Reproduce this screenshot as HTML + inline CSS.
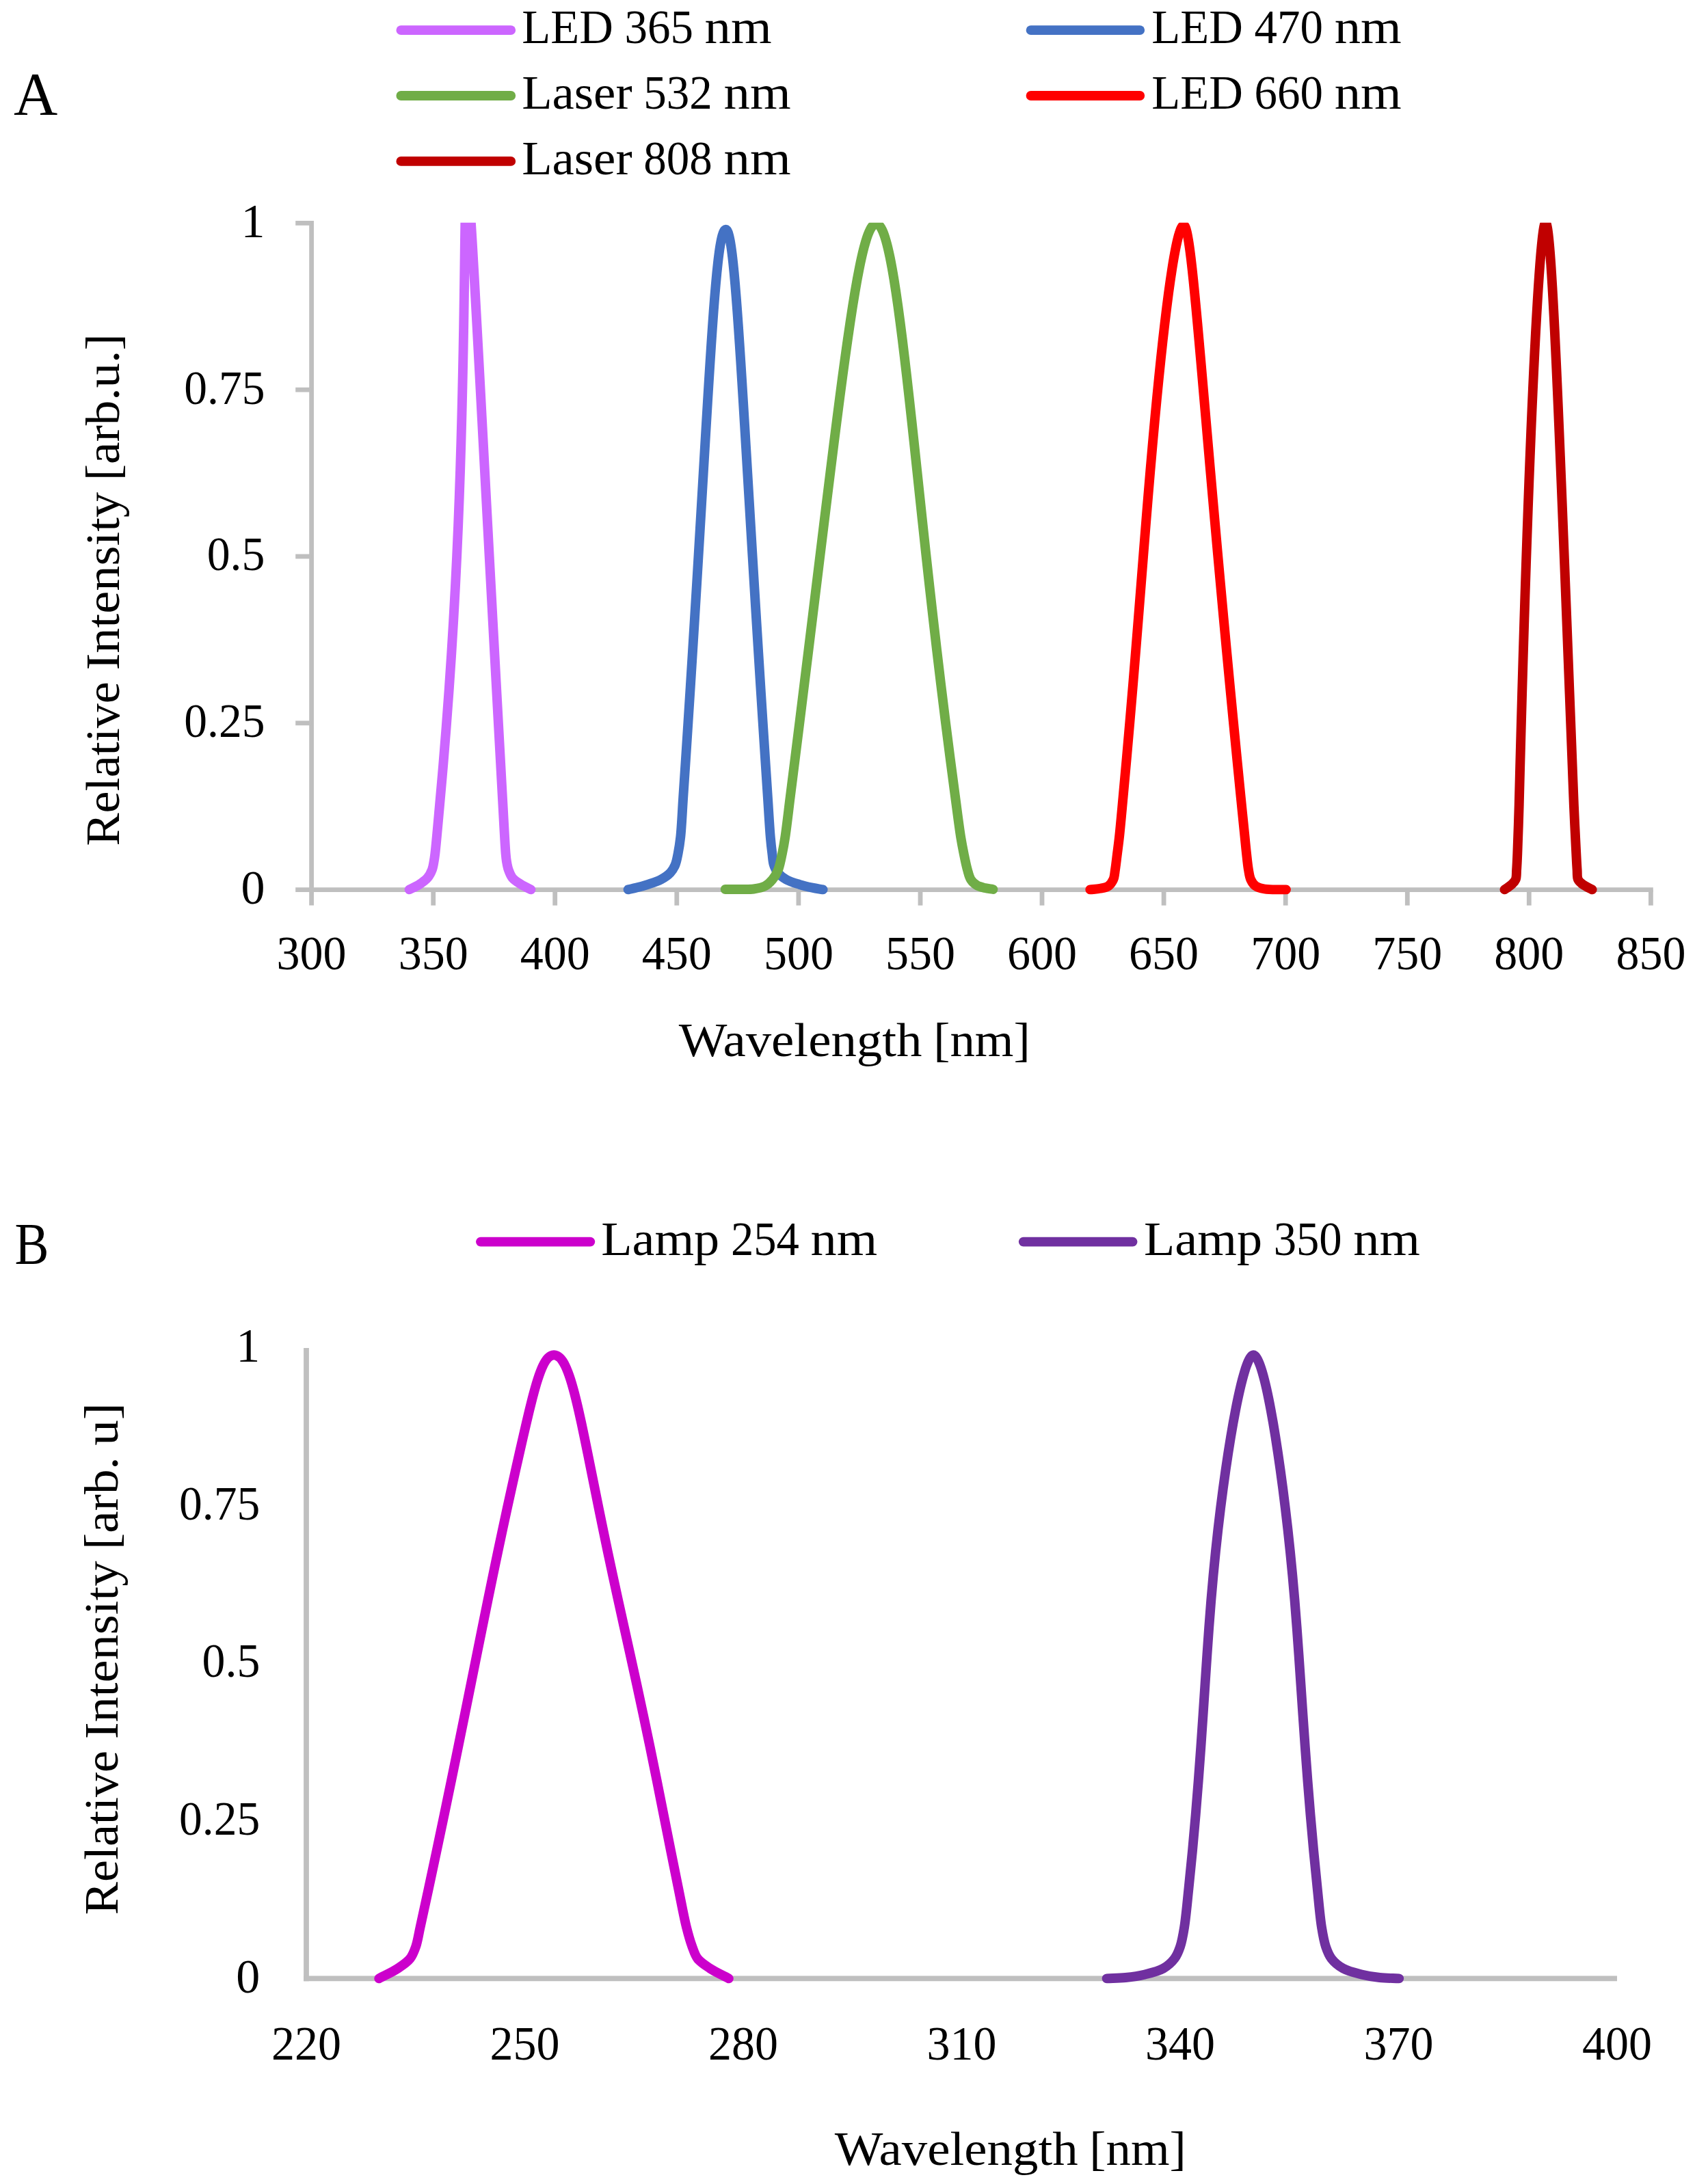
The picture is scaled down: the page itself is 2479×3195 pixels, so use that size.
<!DOCTYPE html>
<html lang="en"><head><meta charset="utf-8"><title>Emission spectra</title>
<style>html,body{margin:0;padding:0;background:#fff}svg{display:block}</style></head>
<body>
<svg width="2479" height="3195" viewBox="0 0 2479 3195" font-family='"Liberation Serif", "DejaVu Serif", serif' fill="#000">
<rect width="2479" height="3195" fill="#fff"/>
<defs><clipPath id="ca"><rect x="0" y="325.7" width="2479" height="1100"/></clipPath></defs>
<g stroke="#BFBFBF" stroke-width="6.8" fill="none">
<path d="M455.6 323.0V1324.6"/>
<path d="M432.2 1301.6H2417.8"/>
<path d="M432.2 326.4H455.6"/>
<path d="M432.2 570.2H455.6"/>
<path d="M432.2 814.0H455.6"/>
<path d="M432.2 1057.8H455.6"/>
<path d="M633.7 1301.6V1324.6"/>
<path d="M811.7 1301.6V1324.6"/>
<path d="M989.8 1301.6V1324.6"/>
<path d="M1167.9 1301.6V1324.6"/>
<path d="M1346.0 1301.6V1324.6"/>
<path d="M1524.0 1301.6V1324.6"/>
<path d="M1702.1 1301.6V1324.6"/>
<path d="M1880.2 1301.6V1324.6"/>
<path d="M2058.3 1301.6V1324.6"/>
<path d="M2236.3 1301.6V1324.6"/>
<path d="M2414.4 1301.6V1324.6"/>
</g>
<g fill="none" stroke-width="13.9" stroke-linecap="round" stroke-linejoin="round" clip-path="url(#ca)">
<path stroke="#CC66FF" d="M598.60 1301.40C603.50 1298.87 608.79 1296.73 613.30 1293.80C617.63 1290.99 622.05 1288.03 625.20 1284.30C628.23 1280.72 630.46 1276.19 632.05 1272.00C633.53 1268.08 633.97 1263.96 634.69 1260.00C635.39 1256.16 635.69 1254.04 636.34 1248.60C637.96 1235.00 641.03 1199.56 643.08 1177.00C644.93 1156.78 646.54 1138.50 648.15 1119.49C649.73 1100.80 651.23 1082.25 652.65 1063.87C654.05 1045.80 655.38 1027.88 656.64 1010.13C657.87 992.69 659.04 975.40 660.14 958.28C661.22 941.47 662.24 924.81 663.20 908.31C664.14 892.13 665.02 876.10 665.85 860.23C666.66 844.68 667.42 829.27 668.13 814.03C668.83 799.11 669.48 784.33 670.09 769.72C670.68 755.43 671.23 741.28 671.74 727.30C672.25 713.63 672.71 700.11 673.14 686.76C673.57 673.72 673.96 660.83 674.32 648.11C674.68 635.70 675.01 623.43 675.32 611.34C675.63 599.56 675.91 587.92 676.18 576.46C676.44 565.31 676.68 554.30 676.91 543.46C677.14 532.94 677.34 522.56 677.54 512.35C677.73 502.45 677.90 492.70 678.07 483.12C678.23 473.86 678.37 464.73 678.51 455.78C678.65 447.15 678.77 438.65 678.89 430.33C679.01 422.32 679.12 414.45 679.22 406.76C679.32 399.38 679.41 392.14 679.51 385.07C679.59 378.33 679.68 371.71 679.77 365.28C679.85 359.16 679.93 353.17 680.01 347.36C680.09 341.87 680.17 336.51 680.26 331.34C680.34 326.48 680.42 321.74 680.52 317.20C680.61 312.96 680.70 308.85 680.81 304.94C680.91 301.34 681.02 297.85 681.14 294.57C681.26 291.60 681.38 288.73 681.53 286.08C681.66 283.75 681.80 281.50 681.99 279.48C682.14 277.78 682.30 276.14 682.53 274.77C682.71 273.70 682.85 272.61 683.16 271.94C683.37 271.51 683.70 270.98 683.90 271.00C684.08 271.02 684.20 271.53 684.33 271.94C684.54 272.62 684.67 273.71 684.83 274.77C685.03 276.14 685.21 277.78 685.39 279.48C685.61 281.50 685.81 283.75 686.02 286.08C686.26 288.73 686.49 291.60 686.72 294.57C686.98 297.85 687.23 301.34 687.49 304.94C687.77 308.85 688.05 312.96 688.33 317.20C688.63 321.74 688.94 326.48 689.25 331.34C689.58 336.51 689.91 341.87 690.24 347.36C690.59 353.17 690.95 359.16 691.31 365.28C691.69 371.71 692.07 378.33 692.46 385.07C692.87 392.14 693.28 399.38 693.70 406.76C694.13 414.45 694.57 422.32 695.01 430.33C695.48 438.65 695.95 447.15 696.42 455.78C696.91 464.73 697.41 473.86 697.91 483.12C698.43 492.70 698.96 502.45 699.50 512.35C700.05 522.56 700.61 532.94 701.17 543.46C701.75 554.30 702.35 565.31 702.94 576.46C703.56 587.92 704.18 599.56 704.81 611.34C705.46 623.43 706.11 635.70 706.77 648.11C707.45 660.83 708.14 673.72 708.84 686.76C709.55 700.11 710.28 713.63 711.01 727.30C711.76 741.28 712.51 755.43 713.28 769.72C714.06 784.33 714.86 799.11 715.66 814.03C716.48 829.27 717.31 844.68 718.15 860.23C719.00 876.10 719.87 892.13 720.74 908.31C721.64 924.81 722.54 941.47 723.45 958.28C724.38 975.40 725.33 992.69 726.28 1010.13C727.25 1027.88 728.23 1045.80 729.22 1063.87C730.23 1082.25 731.25 1100.80 732.28 1119.49C733.32 1138.50 734.31 1156.78 735.46 1177.00C736.73 1199.56 738.47 1234.99 739.62 1248.60C740.08 1254.04 740.24 1256.17 740.88 1260.00C741.53 1263.97 742.17 1268.05 743.54 1272.00C744.99 1276.16 746.59 1280.76 749.50 1284.30C752.63 1288.11 757.65 1290.96 762.10 1293.80C766.61 1296.67 771.63 1298.87 776.40 1301.40"/>
<path stroke="#4472C4" d="M918.60 1301.40C922.73 1300.47 926.58 1299.74 931.00 1298.60C936.15 1297.28 941.91 1295.68 947.60 1293.80C953.78 1291.76 961.07 1289.69 966.70 1286.70C971.77 1284.01 976.57 1280.87 980.11 1277.10C983.38 1273.62 985.64 1269.66 987.53 1265.20C989.61 1260.27 990.43 1254.66 991.64 1248.60C993.08 1241.41 994.19 1234.51 995.26 1224.80C996.91 1209.68 997.91 1185.78 999.20 1166.52C1000.47 1147.59 1001.72 1128.82 1002.94 1110.22C1004.14 1091.95 1005.32 1073.83 1006.47 1055.89C1007.61 1038.28 1008.72 1020.82 1009.82 1003.54C1010.89 986.58 1011.94 969.79 1012.98 953.16C1013.99 936.87 1014.99 920.73 1015.97 904.76C1016.93 889.12 1017.87 873.64 1018.80 858.33C1019.70 843.36 1020.59 828.53 1021.47 813.88C1022.33 799.57 1023.17 785.40 1024.00 771.41C1024.82 757.75 1025.61 744.24 1026.40 730.91C1027.17 717.91 1027.93 705.06 1028.68 692.39C1029.41 680.04 1030.13 667.85 1030.84 655.84C1031.54 644.16 1032.22 632.62 1032.90 621.27C1033.56 610.24 1034.22 599.37 1034.87 588.67C1035.50 578.30 1036.12 568.09 1036.75 558.05C1037.35 548.34 1037.95 538.78 1038.56 529.40C1039.14 520.36 1039.72 511.45 1040.30 502.73C1040.86 494.34 1041.42 486.10 1041.99 478.04C1042.53 470.31 1043.08 462.72 1043.63 455.32C1044.16 448.25 1044.70 441.32 1045.24 434.58C1045.76 428.16 1046.29 421.89 1046.83 415.81C1047.34 410.06 1047.86 404.44 1048.40 399.02C1048.90 393.92 1049.42 388.96 1049.96 384.20C1050.46 379.77 1050.98 375.46 1051.53 371.36C1052.03 367.58 1052.55 363.93 1053.11 360.49C1053.62 357.38 1054.14 354.37 1054.71 351.60C1055.23 349.15 1055.75 346.79 1056.35 344.69C1056.87 342.89 1057.39 341.16 1058.03 339.75C1058.56 338.61 1059.08 337.46 1059.77 336.79C1060.30 336.27 1060.98 335.79 1061.55 335.80C1062.10 335.81 1062.67 336.28 1063.14 336.79C1063.77 337.46 1064.22 338.61 1064.69 339.75C1065.27 341.17 1065.74 342.89 1066.21 344.69C1066.76 346.79 1067.23 349.15 1067.70 351.60C1068.24 354.38 1068.72 357.38 1069.19 360.49C1069.71 363.93 1070.19 367.58 1070.66 371.36C1071.18 375.46 1071.67 379.77 1072.15 384.20C1072.66 388.96 1073.15 393.92 1073.64 399.02C1074.16 404.44 1074.66 410.06 1075.15 415.81C1075.68 421.89 1076.19 428.16 1076.70 434.58C1077.23 441.32 1077.75 448.25 1078.28 455.32C1078.82 462.72 1079.36 470.31 1079.90 478.04C1080.47 486.10 1081.02 494.34 1081.58 502.73C1082.17 511.45 1082.75 520.36 1083.33 529.40C1083.93 538.78 1084.54 548.34 1085.14 558.05C1085.77 568.09 1086.40 578.30 1087.04 588.67C1087.70 599.37 1088.36 610.24 1089.02 621.27C1089.71 632.62 1090.40 644.16 1091.11 655.84C1091.83 667.85 1092.56 680.04 1093.29 692.39C1094.05 705.06 1094.82 717.91 1095.60 730.91C1096.39 744.24 1097.20 757.75 1098.02 771.41C1098.86 785.40 1099.71 799.57 1100.58 813.88C1101.46 828.53 1102.36 843.36 1103.27 858.33C1104.20 873.64 1105.15 889.12 1106.12 904.76C1107.10 920.73 1108.10 936.87 1109.12 953.16C1110.15 969.79 1111.21 986.58 1112.28 1003.54C1113.38 1020.82 1114.49 1038.28 1115.62 1055.89C1116.78 1073.83 1117.95 1091.95 1119.15 1110.22C1120.36 1128.82 1121.60 1147.59 1122.86 1166.52C1124.14 1185.78 1125.45 1209.66 1126.77 1224.80C1127.62 1234.49 1128.41 1241.39 1129.33 1248.60C1130.10 1254.64 1130.19 1260.24 1131.79 1265.20C1133.21 1269.63 1135.07 1273.61 1137.94 1277.10C1141.02 1280.85 1145.28 1284.03 1150.00 1286.70C1155.41 1289.76 1162.60 1291.81 1169.00 1293.80C1175.30 1295.76 1182.04 1297.29 1188.10 1298.60C1193.52 1299.77 1198.43 1300.47 1203.60 1301.40"/>
<path stroke="#70AD47" d="M1060.70 1301.00C1067.47 1301.00 1074.14 1301.08 1081.00 1301.00C1088.04 1300.92 1095.77 1301.42 1102.40 1300.50C1108.34 1299.67 1114.30 1298.69 1119.00 1296.20C1123.30 1293.92 1126.69 1290.48 1129.80 1286.70C1133.13 1282.64 1135.85 1277.95 1138.09 1272.40C1140.83 1265.64 1142.29 1256.56 1143.99 1248.60C1145.68 1240.69 1146.80 1234.52 1148.29 1224.80C1150.63 1209.58 1153.29 1185.41 1155.75 1165.97C1158.16 1146.86 1160.54 1127.91 1162.89 1109.14C1165.20 1090.69 1167.48 1072.41 1169.73 1054.29C1171.93 1036.52 1174.11 1018.89 1176.27 1001.45C1178.38 984.33 1180.46 967.38 1182.53 950.59C1184.55 934.15 1186.54 917.85 1188.51 901.74C1190.44 885.95 1192.35 870.32 1194.24 854.87C1196.09 839.75 1197.91 824.79 1199.72 810.00C1201.49 795.55 1203.24 781.25 1204.97 767.13C1206.66 753.34 1208.33 739.70 1209.99 726.24C1211.61 713.12 1213.21 700.15 1214.80 687.36C1216.35 674.90 1217.88 662.59 1219.41 650.46C1220.89 638.67 1222.36 627.03 1223.82 615.57C1225.25 604.43 1226.66 593.46 1228.07 582.66C1229.43 572.19 1230.79 561.88 1232.14 551.75C1233.45 541.95 1234.76 532.30 1236.07 522.83C1237.33 513.70 1238.58 504.71 1239.85 495.91C1241.06 487.44 1242.28 479.12 1243.50 470.98C1244.67 463.18 1245.84 455.52 1247.03 448.05C1248.16 440.91 1249.30 433.91 1250.45 427.11C1251.55 420.63 1252.66 414.30 1253.78 408.17C1254.85 402.35 1255.93 396.68 1257.03 391.22C1258.07 386.07 1259.12 381.06 1260.21 376.26C1261.22 371.78 1262.25 367.43 1263.32 363.30C1264.31 359.48 1265.32 355.79 1266.39 352.33C1267.36 349.17 1268.35 346.14 1269.42 343.35C1270.37 340.86 1271.35 338.47 1272.42 336.37C1273.36 334.54 1274.32 332.78 1275.41 331.39C1276.34 330.20 1277.32 329.07 1278.40 328.40C1279.34 327.82 1280.40 327.40 1281.40 327.40C1282.39 327.40 1283.44 327.82 1284.36 328.40C1285.42 329.07 1286.38 330.20 1287.28 331.39C1288.34 332.78 1289.26 334.54 1290.17 336.37C1291.20 338.47 1292.12 340.86 1293.03 343.35C1294.04 346.14 1294.96 349.17 1295.87 352.33C1296.87 355.79 1297.80 359.48 1298.72 363.30C1299.71 367.43 1300.65 371.78 1301.58 376.26C1302.57 381.06 1303.52 386.07 1304.46 391.22C1305.46 396.68 1306.42 402.35 1307.38 408.17C1308.38 414.30 1309.37 420.64 1310.34 427.11C1311.36 433.91 1312.37 440.91 1313.36 448.05C1314.40 455.52 1315.43 463.18 1316.45 470.98C1317.52 479.12 1318.57 487.44 1319.63 495.91C1320.72 504.71 1321.81 513.70 1322.90 522.83C1324.02 532.30 1325.14 541.95 1326.27 551.75C1327.43 561.88 1328.59 572.20 1329.76 582.66C1330.97 593.46 1332.17 604.43 1333.38 615.57C1334.63 627.03 1335.88 638.67 1337.15 650.46C1338.44 662.59 1339.75 674.90 1341.07 687.36C1342.43 700.15 1343.80 713.12 1345.20 726.24C1346.63 739.70 1348.08 753.34 1349.56 767.13C1351.08 781.25 1352.62 795.55 1354.19 810.00C1355.81 824.79 1357.45 839.75 1359.13 854.87C1360.85 870.32 1362.61 885.95 1364.41 901.74C1366.25 917.85 1368.13 934.15 1370.06 950.59C1372.03 967.38 1374.05 984.34 1376.13 1001.45C1378.24 1018.90 1380.41 1036.52 1382.64 1054.29C1384.91 1072.41 1387.23 1090.69 1389.63 1109.14C1392.06 1127.91 1394.56 1146.87 1397.13 1165.97C1399.75 1185.41 1402.74 1209.57 1405.19 1224.80C1406.76 1234.52 1407.98 1240.68 1409.59 1248.60C1411.21 1256.55 1412.93 1265.52 1414.90 1272.40C1416.44 1277.82 1417.39 1282.81 1419.90 1286.70C1422.13 1290.16 1425.21 1292.96 1428.60 1295.00C1432.06 1297.09 1436.49 1298.00 1440.50 1299.00C1444.43 1299.98 1448.43 1300.33 1452.40 1301.00"/>
<path stroke="#FF0000" d="M1594.30 1301.40C1599.20 1300.87 1604.39 1300.73 1609.00 1299.80C1613.24 1298.94 1617.77 1298.43 1621.00 1296.20C1624.15 1294.02 1626.59 1290.41 1628.25 1286.70C1630.08 1282.60 1630.14 1277.79 1631.00 1272.40C1632.10 1265.49 1633.05 1256.53 1634.05 1248.60C1635.05 1240.67 1635.93 1234.50 1637.00 1224.80C1638.66 1209.59 1640.77 1185.51 1642.58 1166.11C1644.35 1147.05 1646.07 1128.14 1647.74 1109.41C1649.39 1091.01 1650.98 1072.76 1652.53 1054.69C1654.06 1036.96 1655.54 1019.38 1657.00 1001.97C1658.42 984.90 1659.80 967.98 1661.16 951.24C1662.50 934.83 1663.80 918.57 1665.08 902.49C1666.34 886.75 1667.57 871.15 1668.79 855.74C1669.99 840.65 1671.16 825.72 1672.33 810.97C1673.47 796.55 1674.60 782.29 1675.74 768.20C1676.85 754.44 1677.95 740.84 1679.06 727.41C1680.14 714.32 1681.23 701.38 1682.32 688.61C1683.39 676.18 1684.46 663.91 1685.54 651.81C1686.59 640.04 1687.64 628.42 1688.70 616.99C1689.72 605.89 1690.76 594.93 1691.80 584.16C1692.80 573.72 1693.82 563.43 1694.84 553.33C1695.82 543.55 1696.81 533.92 1697.81 524.48C1698.78 515.36 1699.75 506.40 1700.72 497.62C1701.67 489.17 1702.61 480.86 1703.57 472.75C1704.48 464.96 1705.41 457.32 1706.34 449.87C1707.23 442.74 1708.13 435.76 1709.04 428.98C1709.90 422.52 1710.77 416.20 1711.66 410.08C1712.49 404.28 1713.34 398.62 1714.20 393.17C1715.01 388.03 1715.82 383.04 1716.66 378.24C1717.43 373.78 1718.22 369.44 1719.03 365.31C1719.78 361.51 1720.53 357.83 1721.31 354.37C1722.03 351.23 1722.75 348.20 1723.51 345.42C1724.19 342.94 1724.87 340.56 1725.61 338.45C1726.25 336.64 1726.88 334.90 1727.62 333.48C1728.21 332.33 1728.80 331.17 1729.52 330.49C1730.07 329.98 1730.75 329.47 1731.30 329.50C1731.81 329.53 1732.29 330.00 1732.71 330.49C1733.29 331.18 1733.70 332.34 1734.13 333.48C1734.67 334.91 1735.12 336.65 1735.57 338.45C1736.10 340.57 1736.58 342.94 1737.05 345.42C1737.58 348.21 1738.08 351.23 1738.57 354.37C1739.12 357.83 1739.63 361.51 1740.15 365.31C1740.71 369.44 1741.25 373.78 1741.79 378.24C1742.37 383.04 1742.94 388.04 1743.51 393.17C1744.11 398.63 1744.71 404.28 1745.31 410.08C1745.94 416.20 1746.57 422.52 1747.20 428.98C1747.87 435.77 1748.53 442.75 1749.20 449.87C1749.90 457.32 1750.61 464.96 1751.32 472.75C1752.06 480.86 1752.80 489.17 1753.56 497.62C1754.34 506.40 1755.13 515.36 1755.93 524.48C1756.76 533.92 1757.60 543.55 1758.46 553.33C1759.34 563.43 1760.23 573.72 1761.13 584.16C1762.07 594.93 1763.01 605.89 1763.98 616.99C1764.97 628.43 1765.97 640.04 1767.00 651.81C1768.05 663.91 1769.12 676.18 1770.20 688.61C1771.32 701.38 1772.45 714.32 1773.60 727.41C1774.79 740.84 1775.99 754.44 1777.21 768.20C1778.46 782.29 1779.74 796.55 1781.03 810.97C1782.36 825.72 1783.71 840.65 1785.09 855.74C1786.49 871.15 1787.92 886.75 1789.37 902.49C1790.86 918.57 1792.37 934.83 1793.91 951.24C1795.48 967.98 1797.07 984.90 1798.70 1001.97C1800.35 1019.38 1802.04 1036.96 1803.76 1054.69C1805.50 1072.76 1807.28 1091.01 1809.09 1109.41C1810.93 1128.14 1812.81 1147.05 1814.71 1166.11C1816.65 1185.50 1819.09 1209.58 1820.63 1224.80C1821.61 1234.49 1822.16 1240.67 1823.05 1248.60C1823.94 1256.54 1824.75 1265.50 1825.97 1272.40C1826.92 1277.80 1827.37 1282.59 1829.28 1286.70C1831.00 1290.40 1833.22 1293.92 1836.40 1296.20C1839.83 1298.66 1844.11 1299.56 1849.50 1300.50C1857.65 1301.92 1870.50 1301.10 1881.00 1301.40"/>
<path stroke="#C00000" d="M2200.50 1301.40C2204.00 1298.87 2208.17 1296.49 2211.00 1293.80C2213.37 1291.54 2215.48 1289.70 2216.71 1286.70C2218.24 1282.93 2217.71 1277.78 2218.11 1272.40C2218.63 1265.48 2218.90 1258.66 2219.32 1248.60C2220.06 1231.16 2221.06 1199.46 2221.73 1177.10C2222.31 1157.34 2222.68 1139.72 2223.17 1121.27C2223.65 1103.14 2224.13 1085.16 2224.62 1067.34C2225.10 1049.84 2225.59 1032.48 2226.08 1015.30C2226.56 998.42 2227.05 981.70 2227.54 965.15C2228.03 948.91 2228.51 932.81 2229.01 916.89C2229.49 901.28 2229.98 885.82 2230.47 870.52C2230.96 855.55 2231.45 840.71 2231.94 826.05C2232.42 811.70 2232.91 797.50 2233.40 783.47C2233.88 769.75 2234.36 756.18 2234.85 742.78C2235.33 729.70 2235.81 716.76 2236.30 703.99C2236.77 691.53 2237.25 679.23 2237.74 667.09C2238.21 655.26 2238.68 643.58 2239.16 632.08C2239.63 620.88 2240.10 609.83 2240.57 598.96C2241.03 588.40 2241.50 577.98 2241.97 567.73C2242.42 557.80 2242.88 548.01 2243.34 538.40C2243.79 529.10 2244.24 519.94 2244.70 510.96C2245.14 502.29 2245.58 493.76 2246.03 485.41C2246.47 477.37 2246.90 469.48 2247.34 461.76C2247.77 454.35 2248.19 447.08 2248.63 439.99C2249.04 433.22 2249.46 426.58 2249.88 420.12C2250.28 413.98 2250.69 407.97 2251.10 402.14C2251.50 396.63 2251.89 391.25 2252.29 386.06C2252.67 381.18 2253.06 376.43 2253.45 371.86C2253.82 367.62 2254.19 363.49 2254.57 359.56C2254.92 355.95 2255.28 352.45 2255.65 349.16C2255.99 346.17 2256.33 343.30 2256.69 340.64C2257.01 338.29 2257.33 336.03 2257.69 334.02C2257.99 332.30 2258.28 330.65 2258.64 329.28C2258.92 328.21 2259.16 327.11 2259.54 326.45C2259.79 326.01 2260.11 325.51 2260.40 325.50C2260.70 325.49 2261.06 326.01 2261.33 326.45C2261.73 327.11 2261.98 328.21 2262.27 329.28C2262.63 330.65 2262.92 332.30 2263.22 334.02C2263.57 336.03 2263.87 338.29 2264.18 340.64C2264.53 343.30 2264.84 346.17 2265.16 349.16C2265.51 352.45 2265.83 355.95 2266.16 359.56C2266.51 363.49 2266.84 367.62 2267.17 371.86C2267.53 376.43 2267.87 381.18 2268.22 386.06C2268.58 391.25 2268.93 396.63 2269.28 402.14C2269.65 407.97 2270.02 413.98 2270.38 420.12C2270.76 426.58 2271.13 433.22 2271.50 439.99C2271.89 447.08 2272.27 454.35 2272.66 461.76C2273.06 469.48 2273.45 477.37 2273.85 485.41C2274.26 493.76 2274.67 502.29 2275.08 510.96C2275.50 519.94 2275.93 529.10 2276.35 538.40C2276.79 548.01 2277.22 557.80 2277.66 567.73C2278.11 577.98 2278.56 588.40 2279.02 598.96C2279.48 609.83 2279.95 620.88 2280.42 632.08C2280.90 643.58 2281.39 655.26 2281.87 667.09C2282.37 679.23 2282.87 691.53 2283.38 703.99C2283.90 716.76 2284.41 729.70 2284.94 742.78C2285.47 756.18 2286.01 769.75 2286.55 783.47C2287.11 797.50 2287.67 811.70 2288.23 826.05C2288.80 840.71 2289.38 855.55 2289.97 870.52C2290.56 885.82 2291.16 901.28 2291.77 916.89C2292.39 932.81 2293.01 948.91 2293.64 965.15C2294.28 981.70 2294.92 998.42 2295.57 1015.30C2296.24 1032.48 2296.91 1049.84 2297.58 1067.34C2298.27 1085.16 2298.96 1103.14 2299.66 1121.27C2300.38 1139.72 2300.96 1157.34 2301.82 1177.10C2302.79 1199.46 2304.35 1231.16 2305.27 1248.60C2305.79 1258.66 2306.09 1265.48 2306.61 1272.40C2307.02 1277.77 2306.25 1282.98 2307.96 1286.70C2309.37 1289.78 2311.92 1291.59 2314.80 1293.80C2318.44 1296.59 2324.00 1298.87 2328.60 1301.40"/>
</g>
<g fill="none" stroke-width="13.9" stroke-linecap="round">
<path stroke="#CC66FF" d="M586.4 44.1H747.2"/>
<path stroke="#70AD47" d="M586.4 140.0H747.2"/>
<path stroke="#C00000" d="M586.4 235.9H747.2"/>
<path stroke="#4472C4" d="M1507.6 44.1H1667.2"/>
<path stroke="#FF0000" d="M1507.6 140.0H1667.2"/>
</g>
<text y="62.9" font-size="70"><tspan x="763.2" textLength="133.6" lengthAdjust="spacingAndGlyphs">LED</tspan> <tspan x="913.5" textLength="100.4" lengthAdjust="spacingAndGlyphs">365</tspan> <tspan x="1030.6" textLength="98.1" lengthAdjust="spacingAndGlyphs">nm</tspan></text>
<text y="159.0" font-size="70"><tspan x="763.2" textLength="161.4" lengthAdjust="spacingAndGlyphs">Laser</tspan> <tspan x="941.3" textLength="100.5" lengthAdjust="spacingAndGlyphs">532</tspan> <tspan x="1058.6" textLength="98.1" lengthAdjust="spacingAndGlyphs">nm</tspan></text>
<text y="255.1" font-size="70"><tspan x="763.2" textLength="161.4" lengthAdjust="spacingAndGlyphs">Laser</tspan> <tspan x="941.3" textLength="100.5" lengthAdjust="spacingAndGlyphs">808</tspan> <tspan x="1058.6" textLength="98.1" lengthAdjust="spacingAndGlyphs">nm</tspan></text>
<text y="62.9" font-size="70"><tspan x="1684.3" textLength="133.6" lengthAdjust="spacingAndGlyphs">LED</tspan> <tspan x="1834.6" textLength="100.4" lengthAdjust="spacingAndGlyphs">470</tspan> <tspan x="1951.7" textLength="98.1" lengthAdjust="spacingAndGlyphs">nm</tspan></text>
<text y="159.0" font-size="70"><tspan x="1684.3" textLength="133.6" lengthAdjust="spacingAndGlyphs">LED</tspan> <tspan x="1834.6" textLength="100.4" lengthAdjust="spacingAndGlyphs">660</tspan> <tspan x="1951.7" textLength="98.1" lengthAdjust="spacingAndGlyphs">nm</tspan></text>
<text x="387.5" y="346.7" font-size="70" text-anchor="end">1</text>
<text x="387.5" y="590.5" font-size="70" text-anchor="end" textLength="118.2" lengthAdjust="spacingAndGlyphs">0.75</text>
<text x="387.5" y="834.3" font-size="70" text-anchor="end" textLength="84.8" lengthAdjust="spacingAndGlyphs">0.5</text>
<text x="387.5" y="1078.1" font-size="70" text-anchor="end" textLength="118.2" lengthAdjust="spacingAndGlyphs">0.25</text>
<text x="387.5" y="1321.9" font-size="70" text-anchor="end">0</text>
<text x="455.6" y="1418.0" font-size="70" text-anchor="middle" textLength="102.0" lengthAdjust="spacingAndGlyphs">300</text>
<text x="633.7" y="1418.0" font-size="70" text-anchor="middle" textLength="102.0" lengthAdjust="spacingAndGlyphs">350</text>
<text x="811.7" y="1418.0" font-size="70" text-anchor="middle" textLength="102.0" lengthAdjust="spacingAndGlyphs">400</text>
<text x="989.8" y="1418.0" font-size="70" text-anchor="middle" textLength="102.0" lengthAdjust="spacingAndGlyphs">450</text>
<text x="1167.9" y="1418.0" font-size="70" text-anchor="middle" textLength="102.0" lengthAdjust="spacingAndGlyphs">500</text>
<text x="1346.0" y="1418.0" font-size="70" text-anchor="middle" textLength="102.0" lengthAdjust="spacingAndGlyphs">550</text>
<text x="1524.0" y="1418.0" font-size="70" text-anchor="middle" textLength="102.0" lengthAdjust="spacingAndGlyphs">600</text>
<text x="1702.1" y="1418.0" font-size="70" text-anchor="middle" textLength="102.0" lengthAdjust="spacingAndGlyphs">650</text>
<text x="1880.2" y="1418.0" font-size="70" text-anchor="middle" textLength="102.0" lengthAdjust="spacingAndGlyphs">700</text>
<text x="2058.3" y="1418.0" font-size="70" text-anchor="middle" textLength="102.0" lengthAdjust="spacingAndGlyphs">750</text>
<text x="2236.3" y="1418.0" font-size="70" text-anchor="middle" textLength="102.0" lengthAdjust="spacingAndGlyphs">800</text>
<text x="2414.4" y="1418.0" font-size="70" text-anchor="middle" textLength="102.0" lengthAdjust="spacingAndGlyphs">850</text>
<text y="1545.3" font-size="70"><tspan x="992.7" textLength="355.9" lengthAdjust="spacingAndGlyphs">Wavelength</tspan> <tspan x="1365.2" textLength="141.5" lengthAdjust="spacingAndGlyphs">[nm]</tspan></text>
<text transform="translate(174.0 1237.5) rotate(-90)" font-size="70"><tspan x="0.0" textLength="240.3" lengthAdjust="spacingAndGlyphs">Relative</tspan> <tspan x="257.0" textLength="260.6" lengthAdjust="spacingAndGlyphs">Intensity</tspan> <tspan x="534.2" textLength="214.8" lengthAdjust="spacingAndGlyphs">[arb.u.]</tspan></text>
<text x="20.0" y="166.8" font-size="89" text-anchor="start">A</text>
<g stroke="#BFBFBF" stroke-width="7.8" fill="none">
<path d="M448.0 1972.0V2898.3"/>
<path d="M444.1 2894.4H2365.0"/>
</g>
<g fill="none" stroke-width="13.9" stroke-linecap="round" stroke-linejoin="round">
<path stroke="#CC00CC" d="M554.30 2894.40C563.50 2889.47 573.93 2884.87 581.91 2879.60C588.70 2875.11 595.20 2870.97 599.62 2865.40C603.74 2860.22 605.78 2854.44 608.13 2847.70C610.99 2839.51 612.09 2830.46 614.54 2819.40C618.01 2803.75 622.83 2781.41 626.87 2762.66C630.83 2744.26 634.72 2726.00 638.55 2707.92C642.31 2690.17 645.99 2672.58 649.63 2655.17C653.19 2638.08 656.69 2621.16 660.14 2604.40C663.52 2587.98 666.84 2571.72 670.12 2555.63C673.33 2539.87 676.49 2524.27 679.61 2508.85C682.66 2493.75 685.67 2478.82 688.64 2464.06C691.55 2449.63 694.41 2435.35 697.25 2421.25C700.03 2407.49 702.76 2393.88 705.48 2380.45C708.13 2367.34 710.75 2354.39 713.35 2341.63C715.89 2329.19 718.41 2316.90 720.91 2304.80C723.35 2293.02 725.77 2281.40 728.18 2269.96C730.52 2258.85 732.85 2247.89 735.16 2237.11C737.39 2226.66 739.62 2216.37 741.81 2206.26C743.94 2196.47 746.06 2186.84 748.14 2177.39C750.16 2168.27 752.15 2159.30 754.12 2150.52C756.01 2142.06 757.89 2133.75 759.73 2125.63C761.50 2117.84 763.24 2110.20 764.95 2102.74C766.59 2095.61 768.20 2088.63 769.79 2081.84C771.31 2075.37 772.80 2069.05 774.29 2062.92C775.70 2057.12 777.10 2051.46 778.51 2046.00C779.85 2040.86 781.17 2035.86 782.53 2031.07C783.80 2026.60 785.07 2022.25 786.40 2018.13C787.63 2014.32 788.86 2010.63 790.18 2007.18C791.39 2004.03 792.62 2000.99 793.95 1998.23C795.16 1995.72 796.40 1993.33 797.77 1991.26C799.00 1989.40 800.27 1987.65 801.70 1986.28C802.97 1985.06 804.34 1983.96 805.80 1983.30C807.17 1982.67 808.69 1982.30 810.15 1982.30C811.63 1982.30 813.20 1982.67 814.61 1983.30C816.11 1983.96 817.52 1985.05 818.84 1986.28C820.30 1987.65 821.62 1989.40 822.88 1991.26C824.29 1993.33 825.56 1995.72 826.79 1998.23C828.15 2000.99 829.39 2004.03 830.62 2007.18C831.95 2010.63 833.19 2014.32 834.41 2018.13C835.73 2022.25 836.99 2026.59 838.23 2031.07C839.56 2035.86 840.84 2040.86 842.12 2046.00C843.48 2051.46 844.80 2057.12 846.13 2062.92C847.54 2069.05 848.92 2075.37 850.32 2081.84C851.79 2088.63 853.25 2095.61 854.73 2102.74C856.28 2110.19 857.84 2117.84 859.42 2125.63C861.07 2133.75 862.74 2142.06 864.44 2150.52C866.20 2159.30 868.00 2168.27 869.83 2177.39C871.73 2186.84 873.67 2196.48 875.66 2206.26C877.71 2216.37 879.81 2226.67 881.96 2237.11C884.19 2247.89 886.46 2258.85 888.80 2269.96C891.21 2281.40 893.69 2293.03 896.23 2304.80C898.84 2316.91 901.53 2329.19 904.26 2341.63C907.06 2354.40 909.94 2367.34 912.83 2380.45C915.80 2393.88 918.82 2407.49 921.85 2421.25C924.95 2435.35 928.09 2449.62 931.23 2464.06C934.43 2478.81 937.66 2493.75 940.86 2508.85C944.14 2524.27 947.42 2539.87 950.67 2555.63C953.99 2571.71 957.28 2587.98 960.58 2604.40C963.94 2621.15 967.27 2638.08 970.66 2655.17C974.12 2672.58 977.58 2690.17 981.13 2707.92C984.75 2726.00 988.40 2744.26 992.17 2762.66C996.01 2781.41 1000.07 2803.81 1003.98 2819.40C1006.78 2830.52 1009.26 2839.46 1012.34 2847.70C1014.83 2854.39 1016.35 2860.24 1020.39 2865.40C1024.78 2871.00 1031.51 2875.10 1038.35 2879.60C1046.33 2884.85 1056.65 2889.47 1065.80 2894.40"/>
<path stroke="#7030A0" d="M1618.60 2894.40C1627.80 2893.93 1636.97 2893.98 1646.20 2893.00C1655.60 2892.00 1665.27 2890.64 1674.50 2888.40C1683.68 2886.17 1693.94 2883.86 1701.43 2879.60C1707.97 2875.88 1713.51 2870.88 1717.66 2865.40C1721.62 2860.18 1723.80 2854.44 1726.09 2847.70C1728.87 2839.51 1730.32 2830.51 1732.12 2819.40C1734.65 2803.80 1736.50 2781.41 1738.49 2762.66C1740.44 2744.26 1742.25 2726.00 1743.96 2707.92C1745.64 2690.18 1747.19 2672.58 1748.67 2655.17C1750.12 2638.08 1751.46 2621.16 1752.75 2604.40C1754.01 2587.98 1755.18 2571.72 1756.32 2555.63C1757.44 2539.87 1758.49 2524.27 1759.53 2508.85C1760.54 2493.75 1761.51 2478.82 1762.49 2464.06C1763.45 2449.63 1764.38 2435.35 1765.34 2421.25C1766.28 2407.49 1767.21 2393.88 1768.21 2380.45C1769.18 2367.34 1770.17 2354.39 1771.22 2341.63C1772.25 2329.19 1773.33 2316.90 1774.46 2304.80C1775.55 2293.02 1776.70 2281.40 1777.88 2269.96C1779.03 2258.85 1780.22 2247.89 1781.44 2237.11C1782.63 2226.66 1783.85 2216.37 1785.10 2206.26C1786.31 2196.47 1787.56 2186.84 1788.82 2177.39C1790.05 2168.27 1791.29 2159.30 1792.56 2150.52C1793.78 2142.06 1795.01 2133.75 1796.27 2125.63C1797.47 2117.84 1798.69 2110.19 1799.93 2102.74C1801.11 2095.61 1802.31 2088.63 1803.52 2081.84C1804.68 2075.37 1805.85 2069.05 1807.04 2062.92C1808.16 2057.12 1809.30 2051.46 1810.46 2046.00C1811.55 2040.87 1812.66 2035.87 1813.78 2031.07C1814.83 2026.60 1815.90 2022.26 1816.99 2018.13C1817.99 2014.32 1819.01 2010.64 1820.06 2007.18C1821.01 2004.04 1821.98 2001.01 1822.99 1998.23C1823.89 1995.74 1824.79 1993.36 1825.76 1991.26C1826.59 1989.44 1827.43 1987.69 1828.36 1986.28C1829.12 1985.12 1829.90 1983.97 1830.77 1983.30C1831.47 1982.76 1832.24 1982.31 1833.00 1982.30C1833.77 1982.29 1834.63 1982.75 1835.36 1983.30C1836.27 1983.97 1837.07 1985.11 1837.86 1986.28C1838.80 1987.69 1839.65 1989.43 1840.48 1991.26C1841.45 1993.36 1842.35 1995.74 1843.24 1998.23C1844.24 2001.01 1845.18 2004.04 1846.12 2007.18C1847.14 2010.64 1848.13 2014.32 1849.10 2018.13C1850.16 2022.26 1851.19 2026.60 1852.20 2031.07C1853.28 2035.87 1854.34 2040.87 1855.39 2046.00C1856.51 2051.46 1857.60 2057.12 1858.68 2062.92C1859.82 2069.05 1860.94 2075.37 1862.05 2081.84C1863.21 2088.63 1864.36 2095.61 1865.49 2102.74C1866.68 2110.19 1867.85 2117.84 1869.01 2125.63C1870.22 2133.75 1871.41 2142.06 1872.59 2150.52C1873.82 2159.30 1875.03 2168.27 1876.21 2177.39C1877.44 2186.84 1878.66 2196.47 1879.84 2206.26C1881.06 2216.37 1882.26 2226.66 1883.43 2237.11C1884.63 2247.89 1885.81 2258.85 1886.94 2269.96C1888.11 2281.40 1889.25 2293.02 1890.34 2304.80C1891.46 2316.90 1892.54 2329.19 1893.58 2341.63C1894.64 2354.39 1895.65 2367.34 1896.63 2380.45C1897.64 2393.88 1898.59 2407.49 1899.56 2421.25C1900.54 2435.35 1901.50 2449.63 1902.48 2464.06C1903.48 2478.82 1904.48 2493.75 1905.52 2508.85C1906.58 2524.27 1907.66 2539.87 1908.79 2555.63C1909.96 2571.72 1911.15 2587.98 1912.43 2604.40C1913.73 2621.16 1915.09 2638.08 1916.54 2655.17C1918.02 2672.58 1919.58 2690.18 1921.25 2707.92C1922.96 2726.00 1924.75 2744.26 1926.68 2762.66C1928.65 2781.41 1930.43 2803.80 1932.95 2819.40C1934.75 2830.51 1936.21 2839.51 1938.99 2847.70C1941.28 2854.44 1943.39 2860.20 1947.43 2865.40C1951.72 2870.93 1957.73 2875.87 1964.46 2879.60C1972.06 2883.81 1982.29 2886.16 1991.30 2888.40C2000.11 2890.59 2008.86 2892.00 2017.90 2893.00C2027.16 2894.03 2036.77 2893.93 2046.20 2894.40"/>
</g>
<g fill="none" stroke-width="13.9" stroke-linecap="round">
<path stroke="#CC00CC" d="M703.0 1816.6H863.3"/>
<path stroke="#7030A0" d="M1496.8 1816.6H1656.5"/>
</g>
<text y="1835.8" font-size="70"><tspan x="879.2" textLength="173.0" lengthAdjust="spacingAndGlyphs">Lamp</tspan> <tspan x="1068.9" textLength="100.0" lengthAdjust="spacingAndGlyphs">254</tspan> <tspan x="1185.5" textLength="97.7" lengthAdjust="spacingAndGlyphs">nm</tspan></text>
<text y="1835.8" font-size="70"><tspan x="1673.0" textLength="173.0" lengthAdjust="spacingAndGlyphs">Lamp</tspan> <tspan x="1862.7" textLength="100.0" lengthAdjust="spacingAndGlyphs">350</tspan> <tspan x="1979.3" textLength="97.7" lengthAdjust="spacingAndGlyphs">nm</tspan></text>
<text x="380.3" y="1992.1" font-size="70" text-anchor="end">1</text>
<text x="380.3" y="2222.7" font-size="70" text-anchor="end" textLength="118.2" lengthAdjust="spacingAndGlyphs">0.75</text>
<text x="380.3" y="2453.3" font-size="70" text-anchor="end" textLength="84.8" lengthAdjust="spacingAndGlyphs">0.5</text>
<text x="380.3" y="2683.9" font-size="70" text-anchor="end" textLength="118.2" lengthAdjust="spacingAndGlyphs">0.25</text>
<text x="380.3" y="2914.5" font-size="70" text-anchor="end">0</text>
<text x="448.0" y="3012.8" font-size="70" text-anchor="middle" textLength="102.0" lengthAdjust="spacingAndGlyphs">220</text>
<text x="767.5" y="3012.8" font-size="70" text-anchor="middle" textLength="102.0" lengthAdjust="spacingAndGlyphs">250</text>
<text x="1087.0" y="3012.8" font-size="70" text-anchor="middle" textLength="102.0" lengthAdjust="spacingAndGlyphs">280</text>
<text x="1406.5" y="3012.8" font-size="70" text-anchor="middle" textLength="102.0" lengthAdjust="spacingAndGlyphs">310</text>
<text x="1726.0" y="3012.8" font-size="70" text-anchor="middle" textLength="102.0" lengthAdjust="spacingAndGlyphs">340</text>
<text x="2045.5" y="3012.8" font-size="70" text-anchor="middle" textLength="102.0" lengthAdjust="spacingAndGlyphs">370</text>
<text x="2365.0" y="3012.8" font-size="70" text-anchor="middle" textLength="102.0" lengthAdjust="spacingAndGlyphs">400</text>
<text y="3167.1" font-size="70"><tspan x="1220.8" textLength="355.9" lengthAdjust="spacingAndGlyphs">Wavelength</tspan> <tspan x="1593.3" textLength="141.5" lengthAdjust="spacingAndGlyphs">[nm]</tspan></text>
<text transform="translate(171.9 2801.2) rotate(-90)" font-size="70"><tspan x="0.0" textLength="240.3" lengthAdjust="spacingAndGlyphs">Relative</tspan> <tspan x="257.0" textLength="260.6" lengthAdjust="spacingAndGlyphs">Intensity</tspan> <tspan x="534.2" textLength="135.6" lengthAdjust="spacingAndGlyphs">[arb.</tspan> <tspan x="686.5" textLength="62.5" lengthAdjust="spacingAndGlyphs">u]</tspan></text>
<text x="21.5" y="1848.8" font-size="86" text-anchor="start" textLength="50.0" lengthAdjust="spacingAndGlyphs">B</text>
</svg>
</body></html>
